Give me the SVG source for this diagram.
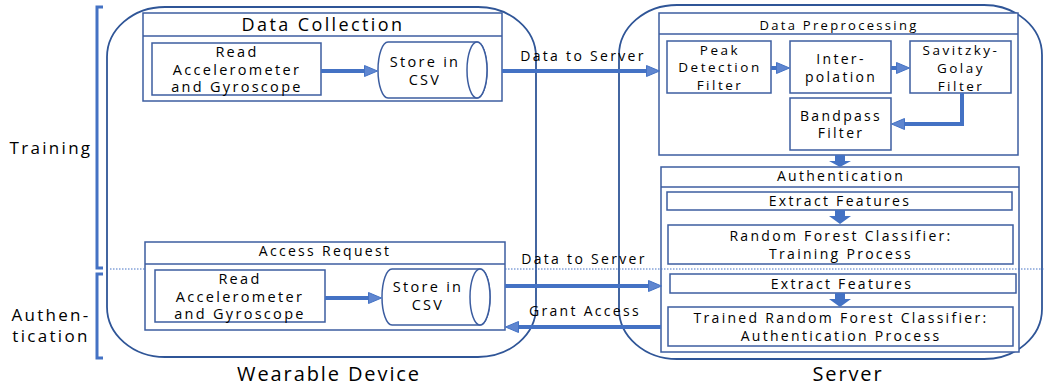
<svg xmlns="http://www.w3.org/2000/svg" width="1045" height="385" viewBox="0 0 1045 385">
<style>
text{font-family:"Open Sans","Liberation Sans",sans-serif;fill:#000;text-anchor:middle;letter-spacing:2.3px}
.outer{fill:none;stroke:#2F5597;stroke-width:1.8}
.box{fill:#fff;stroke:#3C5DA0;stroke-width:1.5}
.t15{font-size:14.5px}
.t13{font-size:13px}
.t14{font-size:14px}
.t135{font-size:13.5px;letter-spacing:2.5px}
.side{font-size:17px}
.big{font-size:20px;letter-spacing:1.9px}
.title{font-size:18px;letter-spacing:2.4px}
.conn{fill:none;stroke:#4472C4;stroke-width:4}
.blk{fill:#4472C4}
.br{fill:none;stroke:#4472C4;stroke-width:3}
.dot{stroke:#4472C4;stroke-width:1;stroke-dasharray:1.5 1.5}
</style>
<defs>
<marker id="ah" markerUnits="userSpaceOnUse" markerWidth="15" markerHeight="13" refX="1" refY="6" orient="auto">
<path d="M0.5,0.5 L13.5,6 L0.5,11.5 Z" fill="#5F86D0" stroke="#4472C4" stroke-width="1"/>
</marker>
</defs>

<g id="brackets">
<path class="br" d="M103,7 H97 V268 H103"/>
<path class="br" d="M103,274 H97 V358 H103"/>
<text class="side" x="51" y="154">Training</text>
<text class="side" x="51" y="321">Authen-</text>
<text class="side" x="51" y="342">tication</text>
</g>

<g id="wearable-device">
<rect class="outer" x="107" y="7" width="429" height="350" rx="58" ry="50"/>
<text class="big" x="329" y="381">Wearable Device</text>
</g>
<g id="server">
<rect class="outer" x="619" y="5" width="423" height="354" rx="58" ry="50"/>
<text class="big" x="848" y="381">Server</text>
</g>

<g id="data-collection">
<rect class="box" x="143" y="13" width="359" height="88"/>
<line x1="143" y1="36" x2="502" y2="36" stroke="#3C5DA0" stroke-width="1.5"/>
<text class="title" x="323" y="31">Data Collection</text>
</g>
<g id="read1">
<rect class="box" x="152" y="43" width="169" height="52"/>
<text class="t15" x="237" y="57">Read</text>
<text class="t15" x="237" y="74.5">Accelerometer</text>
<text class="t15" x="237" y="92">and Gyroscope</text>
</g>
<g id="store1">
<path class="box" d="M388,42 H477 A10,28 0 0 1 477,98 H388 A10,28 0 0 1 388,42 Z"/>
<ellipse class="box" cx="477" cy="70" rx="10" ry="28"/>
<text class="t15" x="425" y="66.5">Store in</text>
<text class="t15" x="425" y="85">CSV</text>
</g>

<g id="data-preprocessing">
<rect class="box" x="659" y="13" width="359" height="142"/>
<line x1="659" y1="34" x2="1018" y2="34" stroke="#3C5DA0" stroke-width="1.5"/>
<text class="t13" x="839" y="30">Data Preprocessing</text>
</g>
<g id="peak">
<rect class="box" x="667" y="41" width="104" height="52"/>
<text class="t135" x="720" y="54.5">Peak</text>
<text class="t135" x="720" y="72">Detection</text>
<text class="t135" x="720" y="89.5">Filter</text>
</g>
<g id="interpolation">
<rect class="box" x="790" y="41" width="101" height="52"/>
<text class="t14" x="841" y="64">Inter-</text>
<text class="t14" x="841" y="81.5">polation</text>
</g>
<g id="savitzky">
<rect class="box" x="910" y="41" width="101" height="52"/>
<text class="t135" x="961" y="55">Savitzky-</text>
<text class="t135" x="961" y="73">Golay</text>
<text class="t135" x="961" y="90.5">Filter</text>
</g>
<g id="bandpass">
<rect class="box" x="790" y="98" width="101" height="52"/>
<text class="t14" x="841" y="120.5">Bandpass</text>
<text class="t14" x="841" y="138">Filter</text>
</g>

<g id="authentication">
<rect class="box" x="661" y="167" width="358" height="185"/>
<line x1="661" y1="187" x2="1019" y2="187" stroke="#3C5DA0" stroke-width="1.5"/>
<text class="t14" x="841" y="180.5">Authentication</text>
</g>
<g id="extract1">
<rect class="box" x="667" y="192" width="345" height="18"/>
<text class="t14" x="840" y="206">Extract Features</text>
</g>
<g id="rf-training">
<rect class="box" x="668" y="225" width="345" height="39"/>
<text class="t14" x="841" y="241">Random Forest Classifier:</text>
<text class="t14" x="841" y="258.5">Training  Process</text>
</g>
<g id="extract2">
<rect class="box" x="670" y="274" width="346" height="19"/>
<text class="t14" x="842" y="289">Extract Features</text>
</g>
<g id="rf-auth">
<rect class="box" x="668" y="307" width="345" height="39"/>
<text class="t14" x="841" y="323">Trained Random Forest Classifier:</text>
<text class="t14" x="841" y="340.5">Authentication  Process</text>
</g>

<g id="access-request">
<rect class="box" x="145" y="242" width="360" height="88"/>
<line x1="145" y1="264" x2="505" y2="264" stroke="#3C5DA0" stroke-width="1.5"/>
<text class="t14" x="325" y="256">Access Request</text>
</g>
<g id="read2">
<rect class="box" x="155" y="270" width="170" height="52"/>
<text class="t15" x="240" y="284">Read</text>
<text class="t15" x="240" y="301.5">Accelerometer</text>
<text class="t15" x="240" y="319">and Gyroscope</text>
</g>
<g id="store2">
<path class="box" d="M392,269 H480 A10,28 0 0 1 480,325 H392 A10,28 0 0 1 392,269 Z"/>
<ellipse class="box" cx="480" cy="297" rx="10" ry="28"/>
<text class="t15" x="428" y="292">Store in</text>
<text class="t15" x="428" y="310">CSV</text>
</g>

<g id="phase-divider">
<line class="dot" x1="110" y1="269" x2="145" y2="269"/>
<line class="dot" x1="505" y1="269" x2="1045" y2="269"/>
</g>

<g id="connectors">
<line class="conn" x1="321" y1="71" x2="365" y2="71" marker-end="url(#ah)"/>
<line class="conn" x1="502" y1="71" x2="647" y2="71" marker-end="url(#ah)"/>
<text class="t14" x="583" y="61">Data to Server</text>
<line class="conn" x1="771" y1="68" x2="777" y2="68" marker-end="url(#ah)"/>
<line class="conn" x1="891" y1="68" x2="897" y2="68" marker-end="url(#ah)"/>
<path class="conn" d="M962,93 V124 H904" marker-end="url(#ah)"/>
<path class="blk" d="M835,155 H845 V161 H851 L840,167 L829,161 H835 Z"/>
<path class="blk" d="M835,210 H845 V216 H851 L840,224 L829,216 H835 Z"/>
<path class="blk" d="M835,293 H845 V299 H851 L840,307 L829,299 H835 Z"/>
<line class="conn" x1="325" y1="298" x2="369" y2="298" marker-end="url(#ah)"/>
<line class="conn" x1="505" y1="286" x2="649" y2="286" marker-end="url(#ah)"/>
<text class="t14" x="584" y="264">Data to Server</text>
<line class="conn" x1="661" y1="327" x2="518" y2="327" marker-end="url(#ah)"/>
<text class="t14" x="585" y="316">Grant Access</text>
</g>
</svg>
